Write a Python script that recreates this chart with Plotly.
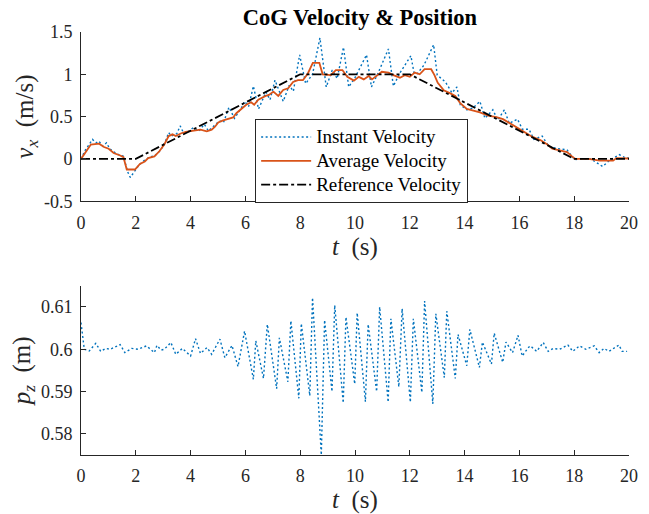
import plotly.graph_objects as go

# ---------------- data ----------------
t_inst = [0, 0.15, 0.42, 0.55, 0.65, 0.8, 0.93, 1.05, 1.3, 1.55, 1.7, 1.8, 1.95, 2.1, 2.3, 2.5, 2.7, 2.9,
          3.05, 3.2, 3.3, 3.5, 3.62, 3.75, 3.95, 4.1, 4.3, 4.5, 4.65, 4.85, 5.05, 5.2, 5.4, 5.6, 5.85, 5.97,
          6.12, 6.29, 6.48, 6.75, 6.9, 7.08, 7.38, 7.6, 7.75, 7.98, 8.2, 8.45, 8.72, 8.95, 9.17, 9.35, 9.58,
          9.77, 10.0, 10.42, 10.6, 10.85, 11.22, 11.4, 11.63, 12.04, 12.18, 12.52, 12.87, 13.0, 13.3, 13.54,
          13.72, 13.84, 14.08, 14.3, 14.56, 14.74, 15.03, 15.21, 15.45, 15.63, 15.93, 16.11, 16.35, 16.53,
          16.83, 17.07, 17.4, 17.73, 18.02, 18.26, 18.6, 19.04, 19.28, 19.64, 19.82, 20.0]
v_inst = [0, 0.1, 0.23, 0.19, 0.21, 0.15, 0.19, 0.12, 0.06, 0.03, -0.15, -0.22, -0.15, -0.08, -0.02, 0.02,
          0.04, 0.1, 0.18, 0.31, 0.27, 0.3, 0.39, 0.3, 0.33, 0.37, 0.33, 0.41, 0.33, 0.39, 0.45, 0.43, 0.61,
          0.48, 0.6, 0.68, 0.62, 0.86, 0.59, 0.79, 0.7, 0.93, 0.68, 0.87, 0.8, 1.23, 0.89, 1.0, 1.43, 0.85,
          1.05, 0.95, 1.32, 0.85, 0.96, 1.23, 0.85, 1.02, 1.3, 0.86, 1.01, 1.22, 0.97, 1.11, 1.35, 0.99, 0.91,
          0.78, 0.85, 0.64, 0.58, 0.6, 0.68, 0.48, 0.58, 0.46, 0.58, 0.42, 0.47, 0.35, 0.35, 0.23, 0.27, 0.15,
          0.12, 0.11, -0.01, 0, 0, -0.09, -0.02, 0.05, 0.02, 0.01]

t_avg = [0, 0.36, 0.66, 0.84, 1.01, 1.19, 1.43, 1.55, 1.67, 1.97, 2.15, 2.33, 2.45, 2.68, 2.86, 3.04, 3.2,
         3.34, 3.46, 3.64, 3.82, 4.0, 4.18, 4.36, 4.59, 4.77, 4.89, 5.01, 5.19, 5.37, 5.55, 5.67, 5.85, 6.03,
         6.21, 6.32, 6.47, 6.62, 6.74, 6.86, 7.02, 7.2, 7.38, 7.56, 7.74, 7.92, 8.1, 8.28, 8.46, 8.7, 8.82,
         9.12, 9.3, 9.54, 9.72, 9.96, 10.14, 10.32, 10.5, 10.62, 10.8, 10.98, 11.22, 11.4, 11.64, 11.82, 12.0,
         12.18, 12.36, 12.54, 12.78, 12.9, 13.02, 13.24, 13.48, 13.66, 13.84, 14.08, 14.32, 14.56, 14.86,
         15.16, 15.4, 15.64, 15.94, 16.24, 16.48, 16.78, 17.02, 17.2, 17.44, 17.74, 17.92, 18.04, 18.52,
         18.94, 19.42, 19.54, 20.0]
v_avg = [0, 0.17, 0.18, 0.14, 0.12, 0.07, 0.04, 0.02, -0.125, -0.125, -0.06, -0.03, 0.01, 0.03, 0.09, 0.17,
         0.27, 0.29, 0.27, 0.3, 0.32, 0.33, 0.34, 0.345, 0.325, 0.345, 0.38, 0.43, 0.455, 0.47, 0.49, 0.54,
         0.59, 0.64, 0.67, 0.64, 0.70, 0.73, 0.745, 0.757, 0.795, 0.745, 0.815, 0.835, 0.91, 0.93, 0.93, 1.01,
         1.135, 1.135, 1.0, 0.99, 1.05, 1.05, 0.97, 0.925, 0.97, 0.94, 0.98, 0.94, 0.99, 1.03, 1.02, 0.99,
         0.96, 0.99, 0.97, 1.02, 1.0, 1.06, 1.06, 0.99, 0.9, 0.81, 0.775, 0.745, 0.66, 0.59, 0.57, 0.55, 0.51,
         0.495, 0.47, 0.425, 0.365, 0.305, 0.26, 0.22, 0.17, 0.12, 0.1, 0.08, 0.03, 0, 0, -0.02, -0.02, 0.01,
         0.005]

t_ref = [0, 2, 8, 12, 18, 20]
v_ref = [0, 0, 1, 1, 0, 0]

t_pos = [0, 0.12, 0.3, 0.54, 0.72, 0.9, 1.07, 1.43, 1.6, 1.85, 2.09, 2.39, 2.68, 2.77, 2.92, 3.04, 3.28,
         3.46, 3.7, 4.0, 4.18, 4.36, 4.6, 4.77, 5.07, 5.25, 5.51, 5.73, 5.97, 6.29, 6.38, 6.66, 6.8, 7.14,
         7.24, 7.55, 7.66, 7.95, 8.04, 8.35, 8.45, 8.77, 8.89, 9.16, 9.26, 9.57, 9.67, 9.99, 10.08, 10.38,
         10.48, 10.79, 10.9, 11.21, 11.31, 11.6, 11.72, 12.02, 12.13, 12.44, 12.54, 12.84, 12.95, 13.26,
         13.35, 13.66, 13.76, 14.08, 14.19, 14.54, 14.65, 14.98, 15.08, 15.39, 15.51, 15.75, 15.95, 16.1,
         16.34, 16.4, 16.63, 16.87, 17.05, 17.23, 17.47, 17.77, 17.95, 18.19, 18.43, 18.73, 18.91, 19.09,
         19.27, 19.63, 19.75, 19.93]
p_pos = [0.6063, 0.6, 0.5996, 0.6014, 0.5995, 0.6002, 0.6, 0.6011, 0.5992, 0.6002, 0.6, 0.6008, 0.5992,
         0.6009, 0.5998, 0.6, 0.6016, 0.5988, 0.6002, 0.5984, 0.6025, 0.599, 0.6004, 0.5988, 0.6024, 0.598,
         0.6009, 0.5959, 0.6043, 0.5929, 0.602, 0.5931, 0.6059, 0.5907, 0.6027, 0.5923, 0.6067, 0.5884,
         0.6061, 0.589, 0.6122, 0.575, 0.6069, 0.59, 0.6104, 0.5873, 0.6076, 0.5918, 0.6086, 0.5876, 0.6059,
         0.59, 0.61, 0.5875, 0.6072, 0.5911, 0.6096, 0.5875, 0.6072, 0.5898, 0.6114, 0.5871, 0.6084, 0.5933,
         0.609, 0.5931, 0.6035, 0.5961, 0.6047, 0.5957, 0.6017, 0.5965, 0.6038, 0.5969, 0.6017, 0.5992,
         0.6033, 0.5984, 0.6005, 0.6008, 0.5995, 0.6016, 0.5995, 0.6002, 0.6, 0.601, 0.5995, 0.6008, 0.6,
         0.6008, 0.5992, 0.6002, 0.5995, 0.601, 0.5995, 0.5995]

x_ticks = [0, 2, 4, 6, 8, 10, 12, 14, 16, 18, 20]
v_ticks = [-0.5, 0, 0.5, 1, 1.5]
v_ticktext = ["-0.5", "0", "0.5", "1", "1.5"]
p_ticks = [0.58, 0.59, 0.6, 0.61]
p_ticktext = ["0.58", "0.59", "0.6", "0.61"]
legend_names = ["Instant Velocity", "Average Velocity", "Reference Velocity"]

# ---------------- styling ----------------
BLUE = "#0072BD"
ORANGE = "#D95319"
AX = "#262626"
FONT = "Liberation Serif, 'Times New Roman', Times, serif"
DOT = "2px,2.5px"


def leg(name):
    return '<span style="font-size:19px">' + name + '</span>'


fig = go.Figure()
fig.add_trace(go.Scatter(x=t_inst, y=v_inst, mode="lines", name=leg(legend_names[0]),
                         line=dict(color=BLUE, width=1.4, dash=DOT), xaxis="x", yaxis="y"))
fig.add_trace(go.Scatter(x=t_avg, y=v_avg, mode="lines", name=leg(legend_names[1]),
                         line=dict(color=ORANGE, width=1.8), xaxis="x", yaxis="y"))
fig.add_trace(go.Scatter(x=t_ref, y=v_ref, mode="lines", name=leg(legend_names[2]),
                         line=dict(color="black", width=1.8, dash="dashdot"), xaxis="x", yaxis="y"))
fig.add_trace(go.Scatter(x=t_pos, y=p_pos, mode="lines", name="p_z", showlegend=False,
                         line=dict(color=BLUE, width=1.4, dash=DOT), xaxis="x2", yaxis="y2"))

common_axis = dict(showline=True, linecolor=AX, linewidth=1, mirror=False, ticks="inside",
                   ticklen=5, tickcolor=AX, tickwidth=1, showgrid=False, zeroline=False,
                   tickfont=dict(family=FONT, size=18, color=AX))
LABEL_FONT = dict(family=FONT, size=25, color=AX)

fig.update_layout(
    width=649, height=514,
    margin=dict(l=81, r=11, t=32, b=57),
    paper_bgcolor="white", plot_bgcolor="white",
    font=dict(family=FONT, color=AX),
    title=dict(text="<b>CoG Velocity &amp; Position</b>", x=0.5 + 5 / 557, xref="paper", xanchor="center",
               y=1 - 17 / 514, yref="container", yanchor="middle",
               font=dict(family=FONT, size=22.5, color="black")),
    xaxis=dict(domain=[0, 1], anchor="y", range=[0, 20], tickvals=x_ticks,
               ticklabelstandoff=5,
               title=dict(text="<i>t</i>&nbsp; (s)", font=LABEL_FONT, standoff=1),
               **common_axis),
    yaxis=dict(domain=[0.6, 1], anchor="x", range=[-0.5, 1.5], tickvals=v_ticks, ticktext=v_ticktext,
               ticklabelstandoff=4,
               title=dict(text="<i>v</i><sub><i>x</i></sub>&nbsp; (m/s)", font=LABEL_FONT, standoff=3),
               **common_axis),
    xaxis2=dict(domain=[0, 1], anchor="y2", range=[0, 20], tickvals=x_ticks,
                ticklabelstandoff=4,
                title=dict(text="<i>t</i>&nbsp; (s)", font=LABEL_FONT, standoff=0),
                **common_axis),
    yaxis2=dict(domain=[0, 0.4], anchor="x2", range=[0.575, 0.615], tickvals=p_ticks,
                ticktext=p_ticktext, ticklabelstandoff=4,
                title=dict(text="<i>p</i><sub><i>z</i></sub>&nbsp; (m)", font=LABEL_FONT, standoff=3),
                **common_axis),
    legend=dict(x=(258 - 81) / 557, y=(457 - 119.5) / 425, xanchor="left", yanchor="top",
                bgcolor="white", bordercolor=AX, borderwidth=1, itemwidth=50,
                font=dict(family=FONT, size=16, color="black"), tracegroupgap=0),
    showlegend=True,
)

fig.write_html("out.html")
